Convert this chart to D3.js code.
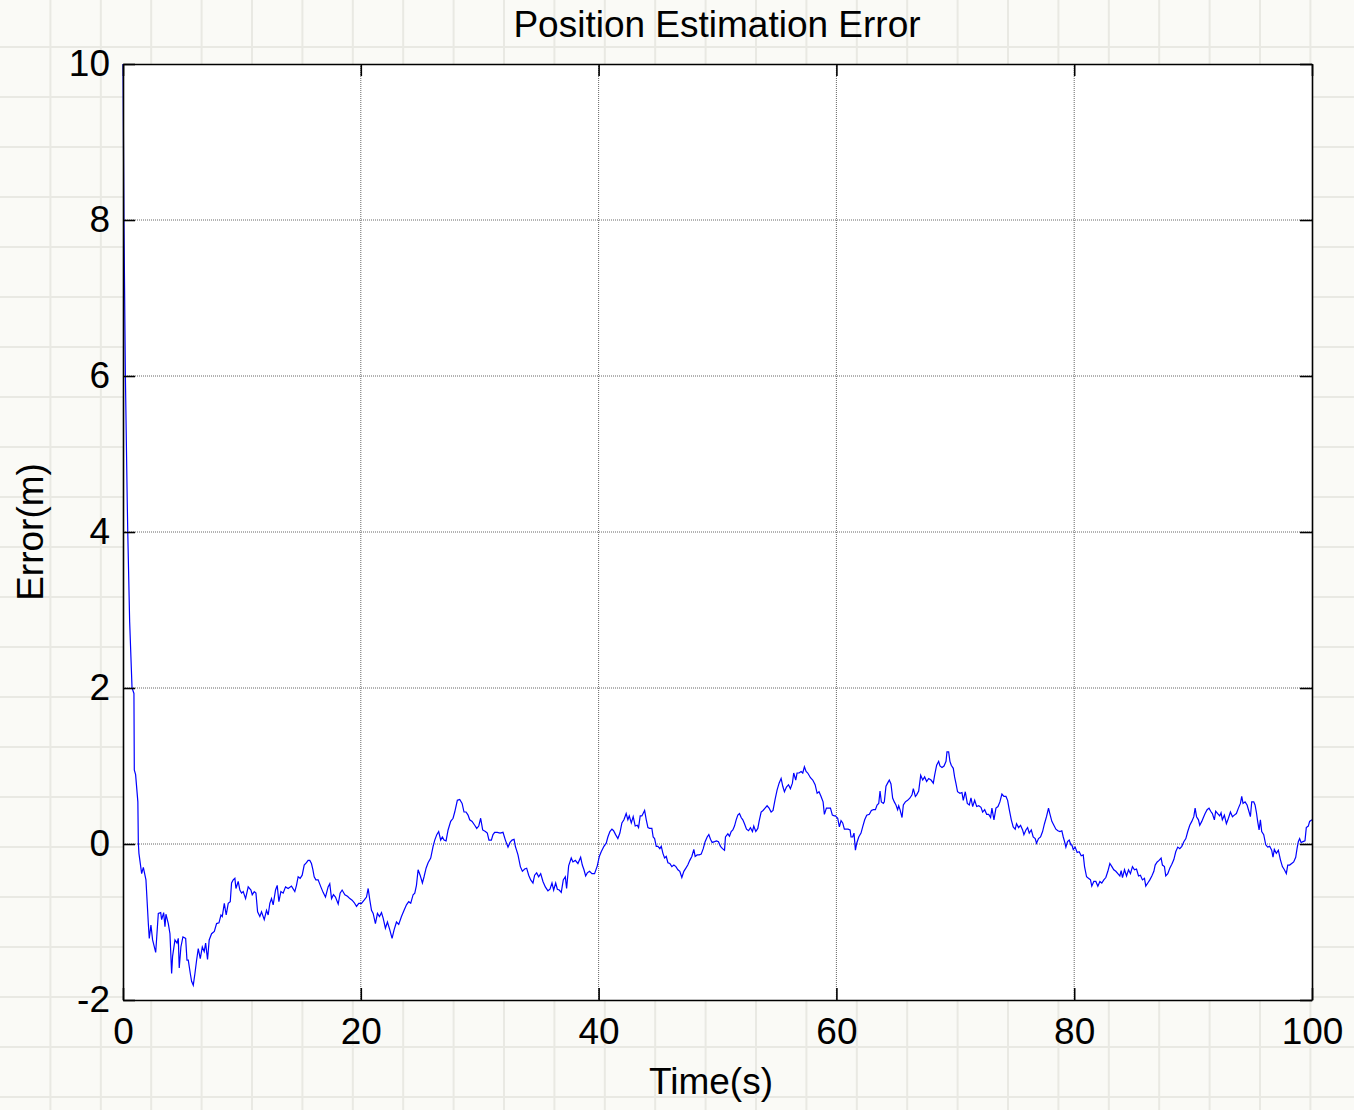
<!DOCTYPE html>
<html lang="en">
<head>
<meta charset="UTF-8">
<title>Position Estimation Error</title>
<style>
  body { margin: 0; background: #fafaf6; }
  text { font-family: "Liberation Sans", Arial, sans-serif; fill: #000; }
</style>
</head>
<body>
<script src="https://d3js.org/d3.v7.min.js"></script>
<script>
// data
var xTicks = [0, 20, 40, 60, 80, 100];
var yTicks = [-2, 0, 2, 4, 6, 8, 10];

var timeS = [
  0, 0.08, 0.2, 0.36, 0.4, 0.56, 0.76, 0.92, 0.95, 1.06, 1.25, 1.29,
  1.34, 1.57, 1.71, 1.93, 2.13, 2.21, 2.35, 2.49, 2.75, 2.97, 3.17, 3.25, 3.42, 3.53, 3.61, 3.81, 3.95,
  4.09, 4.17, 4.37, 4.54, 4.65, 4.73, 4.87, 5.04, 5.27, 5.38, 5.49, 5.66, 5.77, 5.91, 6.05, 6.19, 6.33,
  6.5, 6.67, 6.83, 6.95, 7.11, 7.25, 7.45, 7.68, 7.87, 8.07, 8.24, 8.35, 8.52, 8.68, 8.85, 9.02, 9.13,
  9.27, 9.41, 9.5, 9.69, 9.83, 9.97, 10.11, 10.31, 10.53, 10.76, 10.87, 11.04, 11.18, 11.32, 11.51,
  11.65, 11.88, 12.07, 12.21, 12.35, 12.49, 12.63, 12.83, 12.97, 13.11, 13.28, 13.47, 13.67, 13.89,
  14.17, 14.45, 14.59, 14.73, 14.9, 15.07, 15.24, 15.43, 15.57, 15.71, 15.85, 15.97, 16.08, 16.22,
  16.41, 16.64, 16.83, 17.03, 17.25, 17.39, 17.54, 17.7, 17.87, 18.1, 18.26, 18.43, 18.66, 18.88,
  19.08, 19.27, 19.44, 19.64, 19.83,
  20.06, 20.28, 20.48, 20.62, 20.76, 20.9, 21.04, 21.23, 21.4, 21.57, 21.74, 21.88, 22.07, 22.24,
  22.44, 22.63, 22.8, 23.0, 23.19, 23.42, 23.64, 23.84, 24.03, 24.2, 24.4, 24.54, 24.68, 24.82, 24.99,
  25.18, 25.32, 25.49, 25.66, 25.88, 26.08, 26.22, 26.39, 26.55, 26.72, 26.86, 27.0, 27.17, 27.34,
  27.56, 27.76, 27.9, 28.12, 28.32, 28.52, 28.68, 28.85, 29.02, 29.16, 29.36, 29.58, 29.75, 29.92,
  30.08, 30.25, 30.48, 30.64, 30.78, 30.98, 31.12, 31.26, 31.48, 31.71, 31.96, 32.16, 32.38, 32.55,
  32.72, 32.89, 33.0, 33.22, 33.42, 33.59, 33.78, 33.95, 34.12, 34.29, 34.48, 34.62, 34.79, 34.96,
  35.13, 35.32, 35.52, 35.74, 35.91, 36.08, 36.22, 36.39, 36.53, 36.69, 36.86, 37.03, 37.2, 37.31,
  37.48, 37.7, 37.84, 38.04, 38.26, 38.49, 38.63, 38.77, 38.91, 39.05, 39.24, 39.44, 39.66,
  39.89, 40.06, 40.22, 40.45, 40.64, 40.78, 40.95, 41.12, 41.26, 41.43, 41.62, 41.79, 41.96, 42.13,
  42.32, 42.46, 42.58, 42.75, 42.91, 43.08, 43.25, 43.36, 43.5, 43.64, 43.87, 44.01, 44.15, 44.29,
  44.48, 44.59, 44.71, 44.85, 44.99, 45.15, 45.27, 45.41, 45.55, 45.69, 45.83, 45.99, 46.16, 46.33,
  46.5, 46.67, 46.83, 47.0, 47.17, 47.34, 47.5, 47.67, 47.84, 48.01, 48.12, 48.29, 48.46, 48.63,
  48.8, 48.96, 49.13, 49.27, 49.41, 49.55, 49.75, 49.92, 50.08, 50.25, 50.42, 50.59, 50.67, 50.87,
  51.01, 51.15, 51.29, 51.43, 51.57, 51.71, 51.85, 51.99, 52.13, 52.27, 52.44, 52.61, 52.77, 52.94,
  53.05, 53.22, 53.39, 53.5, 53.67, 53.83, 54.0, 54.17, 54.34, 54.51, 54.67, 54.84, 55.01, 55.18,
  55.35, 55.49, 55.63, 55.8, 55.97, 56.13, 56.3, 56.41, 56.58, 56.69, 56.86, 57.03, 57.17, 57.31,
  57.45, 57.59, 57.82, 58.01, 58.21, 58.38, 58.54, 58.71, 58.88, 58.99, 59.16, 59.33, 59.5, 59.66,
  59.83,
  59.92, 60.11, 60.25, 60.39, 60.53, 60.67, 60.81, 60.98, 61.15, 61.23, 61.37, 61.48, 61.6, 61.71,
  61.88, 62.07, 62.21, 62.38, 62.55, 62.77, 62.94, 63.11, 63.28, 63.42, 63.56, 63.67, 63.78, 63.95,
  64.03, 64.17, 64.34, 64.45, 64.59, 64.73, 64.87, 65.01, 65.15, 65.24, 65.35, 65.52, 65.63, 65.8,
  65.99, 66.19, 66.36, 66.47, 66.64, 66.75, 66.92, 67.09, 67.26, 67.42, 67.59, 67.76, 67.96, 68.15,
  68.26, 68.43, 68.6, 68.71, 68.88, 69.05, 69.22, 69.3, 69.44, 69.55, 69.66, 69.83, 69.94, 70.05,
  70.19, 70.39, 70.56, 70.67, 70.84, 71.01, 71.18, 71.32, 71.46, 71.63, 71.8, 71.97, 72.16, 72.3,
  72.47, 72.64, 72.81, 72.97, 73.08, 73.25, 73.42, 73.59, 73.75, 73.92, 74.09, 74.26, 74.4, 74.54,
  74.71, 74.87, 75.04, 75.15, 75.32, 75.49, 75.66, 75.77, 75.94, 76.08, 76.22, 76.39, 76.55, 76.72,
  76.83, 77.0, 77.17, 77.34, 77.5, 77.67, 77.84, 77.95, 78.12, 78.29, 78.46, 78.63, 78.8, 78.96,
  79.08, 79.19, 79.3, 79.44, 79.58, 79.72,
  79.8, 79.92, 80.08, 80.25, 80.42, 80.59, 80.76, 80.87, 81.04, 81.2, 81.37, 81.48, 81.65, 81.82,
  81.99, 82.16, 82.32, 82.49, 82.66, 82.83, 83.0, 83.17, 83.33, 83.5, 83.67, 83.84, 83.95, 84.06,
  84.23, 84.4, 84.57, 84.73, 84.9, 85.07, 85.24, 85.41, 85.57, 85.74, 85.91, 86.02, 86.19, 86.36,
  86.53, 86.7, 86.81, 86.98, 87.14, 87.31, 87.42, 87.59, 87.7, 87.87, 88.04, 88.21, 88.38, 88.54,
  88.71, 88.88, 89.05, 89.22, 89.39, 89.55, 89.72, 89.89, 90.06, 90.17, 90.29, 90.45, 90.56, 90.73,
  90.84, 91.01, 91.18, 91.34, 91.48, 91.62, 91.79, 91.9, 92.07, 92.24, 92.35, 92.46, 92.63, 92.8,
  92.97, 93.14, 93.31, 93.47, 93.64, 93.81, 93.98, 94.09, 94.2, 94.37, 94.54, 94.71, 94.82, 94.93,
  95.1, 95.21, 95.32, 95.43, 95.55, 95.66, 95.77, 95.94, 96.11, 96.27, 96.44, 96.61, 96.72, 96.83,
  97.0, 97.17, 97.34, 97.51, 97.68, 97.84, 97.96, 98.12, 98.29, 98.46, 98.63, 98.74, 98.85, 98.96,
  99.08, 99.24, 99.41, 99.52, 99.69, 99.8, 100
];

var errorM = [
  10, 8, 6, 4.36, 4, 2.85, 2, 1.93, 0.95, 0.89, 0.54, 0.01,
  -0.12, -0.38, -0.3, -0.46, -1.02, -1.21, -1.04, -1.23, -1.39, -0.89, -0.88, -0.97, -0.88, -1.06, -0.9, -1.02, -1.15,
  -1.66, -1.44, -1.23, -1.27, -1.21, -1.59, -1.32, -1.19, -1.21, -1.49, -1.49, -1.66, -1.76, -1.81, -1.66, -1.49, -1.34,
  -1.47, -1.32, -1.38, -1.27, -1.48, -1.23, -1.15, -1.12, -1.02, -1.01, -0.91, -0.93, -0.76, -0.91, -0.76, -0.74, -0.5,
  -0.46, -0.44, -0.57, -0.48, -0.59, -0.63, -0.61, -0.7, -0.55, -0.59, -0.65, -0.61, -0.63, -0.87, -0.93,
  -0.87, -0.97, -0.85, -0.91, -0.76, -0.7, -0.78, -0.59, -0.53, -0.74, -0.61, -0.63, -0.55, -0.57,
  -0.54, -0.61, -0.53, -0.42, -0.44, -0.4, -0.27, -0.24, -0.21, -0.21, -0.25, -0.33, -0.42, -0.46,
  -0.46, -0.55, -0.62, -0.68, -0.55, -0.51, -0.7, -0.65, -0.68, -0.77, -0.63, -0.59, -0.65, -0.67,
  -0.7, -0.72, -0.75, -0.8, -0.76,
  -0.76, -0.72, -0.68, -0.57, -0.72, -0.85, -0.89, -1.02, -0.89, -0.93, -0.88, -0.95, -1.08, -1.0,
  -1.1, -1.21, -1.1, -1.0, -1.03, -0.93, -0.85, -0.78, -0.74, -0.76, -0.65, -0.63, -0.53, -0.33, -0.4,
  -0.5, -0.42, -0.31, -0.24, -0.18, -0.03, 0.05, 0.12, 0.16, 0.05, 0.09, 0.05, 0.04, 0.18,
  0.29, 0.33, 0.41, 0.56, 0.57, 0.52, 0.41, 0.41, 0.37, 0.31, 0.29, 0.24, 0.2, 0.23,
  0.33, 0.18, 0.16, 0.14, 0.05, 0.05, 0.12, 0.15, 0.15, 0.14, 0.15, 0.05, -0.04, 0.02,
  0.05, 0.06, -0.03, -0.14, -0.29, -0.35, -0.32, -0.31, -0.4, -0.46, -0.5, -0.4, -0.37, -0.42,
  -0.38, -0.48, -0.55, -0.6, -0.58, -0.5, -0.59, -0.5, -0.58, -0.59, -0.62, -0.46, -0.42, -0.57,
  -0.28, -0.18, -0.23, -0.21, -0.25, -0.17, -0.27, -0.33, -0.41, -0.37, -0.35, -0.38, -0.38,
  -0.28, -0.16, -0.1, -0.03, 0.01, 0.09, 0.16, 0.19, 0.17, 0.12, 0.07, 0.14, 0.27, 0.31,
  0.39, 0.31, 0.36, 0.27, 0.35, 0.23, 0.24, 0.21, 0.36, 0.36, 0.43, 0.31, 0.21, 0.2,
  0.2, 0.09, 0.07, -0.03, -0.03, -0.06, -0.03, -0.12, -0.18, -0.16, -0.24, -0.25, -0.29, -0.27,
  -0.29, -0.33, -0.35, -0.43, -0.35, -0.31, -0.27, -0.21, -0.16, -0.07, -0.16, -0.14, -0.14, -0.13,
  -0.06, 0.03, 0.09, 0.12, 0.06, 0.02, 0.03, 0.04, 0.03, -0.03, -0.06, -0.08, 0.09, 0.13,
  0.1, 0.16, 0.18, 0.23, 0.31, 0.37, 0.39, 0.34, 0.31, 0.26, 0.19, 0.17, 0.21, 0.16,
  0.23, 0.16, 0.2, 0.29, 0.41, 0.43, 0.46, 0.49, 0.46, 0.41, 0.43, 0.57, 0.69, 0.78,
  0.84, 0.74, 0.67, 0.73, 0.76, 0.71, 0.78, 0.91, 0.82, 0.91, 0.91, 0.93, 0.91, 0.99,
  0.93, 0.91, 0.85, 0.82, 0.76, 0.65, 0.67, 0.61, 0.54, 0.38, 0.46, 0.46, 0.46, 0.37,
  0.36,
  0.36, 0.33, 0.22, 0.3, 0.27, 0.19, 0.19, 0.19, 0.18, 0.09, 0.09, 0.14, -0.08, 0.01,
  0.09, 0.14, 0.22, 0.31, 0.37, 0.38, 0.43, 0.44, 0.44, 0.5, 0.52, 0.68, 0.54, 0.52,
  0.54, 0.74, 0.79, 0.82, 0.77, 0.59, 0.54, 0.5, 0.44, 0.49, 0.44, 0.34, 0.5, 0.54,
  0.56, 0.59, 0.63, 0.71, 0.61, 0.63, 0.68, 0.88, 0.82, 0.86, 0.8, 0.84, 0.82, 0.78,
  0.88, 1.01, 1.06, 1.0, 0.98, 1.0, 1.06, 1.18, 1.18, 1.06, 1.01, 0.97, 0.86, 0.78,
  0.67, 0.65, 0.66, 0.56, 0.67, 0.52, 0.5, 0.59, 0.48, 0.56, 0.48, 0.49, 0.47, 0.41,
  0.44, 0.38, 0.38, 0.34, 0.46, 0.31, 0.46, 0.48, 0.54, 0.64, 0.61, 0.61, 0.56, 0.44,
  0.31, 0.22, 0.19, 0.26, 0.21, 0.24, 0.18, 0.12, 0.18, 0.21, 0.14, 0.18, 0.09, 0.07,
  0.01, 0.07, 0.09, 0.16, 0.26, 0.35, 0.46, 0.39, 0.29, 0.24, 0.19, 0.17, 0.16, 0.17,
  0.09, 0.03, -0.04, 0.03, 0.05, -0.01,
  -0.01, -0.07, -0.04, -0.11, -0.1, -0.15, -0.14, -0.29, -0.42, -0.44, -0.46, -0.54, -0.48, -0.48,
  -0.54, -0.48, -0.5, -0.46, -0.43, -0.35, -0.25, -0.29, -0.33, -0.35, -0.38, -0.41, -0.34, -0.43,
  -0.33, -0.41, -0.33, -0.38, -0.29, -0.33, -0.32, -0.41, -0.4, -0.46, -0.44, -0.54, -0.5, -0.46,
  -0.41, -0.35, -0.27, -0.23, -0.21, -0.18, -0.27, -0.29, -0.41, -0.38, -0.31, -0.26, -0.2, -0.1,
  -0.04, -0.06, -0.03, 0.03, 0.07, 0.16, 0.24, 0.29, 0.35, 0.46, 0.35, 0.31, 0.24, 0.29,
  0.33, 0.39, 0.44, 0.46, 0.42, 0.39, 0.31, 0.42, 0.39, 0.36, 0.4, 0.31, 0.37, 0.26,
  0.33, 0.41, 0.35, 0.37, 0.39, 0.46, 0.52, 0.61, 0.52, 0.54, 0.5, 0.41, 0.35, 0.54,
  0.54, 0.5, 0.41, 0.29, 0.18, 0.31, 0.16, 0.12, -0.01, -0.04, -0.03, -0.08, -0.17, -0.07,
  -0.12, -0.08, -0.2, -0.29, -0.33, -0.38, -0.27, -0.27, -0.25, -0.23, -0.17, -0.06, 0.03, 0.07,
  0.02, 0.03, 0.04, 0.21, 0.23, 0.29, 0.31
];

var W = 1354, H = 1110;
var margin = {left: 123, right: 42, top: 64, bottom: 110};

var svg = d3.select("body").append("svg")
    .attr("width", W)
    .attr("height", H);

// grid-paper background
var bg = svg.append("g").attr("class", "paper");
bg.append("rect").attr("width", W).attr("height", H).attr("fill", "#fafaf6");
bg.selectAll("line.v").data(d3.range(1, 27)).enter().append("line")
    .attr("x1", function(d) { return d * 50.4; })
    .attr("x2", function(d) { return d * 50.4; })
    .attr("y1", 0).attr("y2", H)
    .attr("stroke", "#e9e9e3").attr("stroke-width", 2);
bg.selectAll("line.h").data(d3.range(1, 23)).enter().append("line")
    .attr("y1", function(d) { return d * 50 - 3; })
    .attr("y2", function(d) { return d * 50 - 3; })
    .attr("x1", 0).attr("x2", W)
    .attr("stroke", "#e9e9e3").attr("stroke-width", 2);

var x = d3.scaleLinear().domain([0, 100]).range([margin.left, W - margin.right]);
var y = d3.scaleLinear().domain([-2, 10]).range([H - margin.bottom, margin.top]);

var x0 = x.range()[0], x1 = x.range()[1];
var y0 = y.range()[0], y1 = y.range()[1];

// plot area
svg.append("rect")
    .attr("x", x0).attr("y", y1)
    .attr("width", x1 - x0).attr("height", y0 - y1)
    .attr("fill", "#fff");

// dotted grid
var grid = svg.append("g").attr("class", "grid");
grid.selectAll("line.gx").data(xTicks.slice(1, -1)).enter().append("line")
    .attr("x1", function(d) { return x(d); }).attr("x2", function(d) { return x(d); })
    .attr("y1", y1).attr("y2", y0)
    .attr("stroke", "#666").attr("stroke-width", 1).attr("stroke-dasharray", "1,1");
grid.selectAll("line.gy").data(yTicks.slice(1, -1)).enter().append("line")
    .attr("y1", function(d) { return y(d); }).attr("y2", function(d) { return y(d); })
    .attr("x1", x0).attr("x2", x1)
    .attr("stroke", "#666").attr("stroke-width", 1).attr("stroke-dasharray", "1,1");

// the error curve
var pts = timeS.map(function(t, i) { return [t, errorM[i]]; });
var line = d3.line()
    .x(function(d) { return x(d[0]); })
    .y(function(d) { return y(d[1]); });

svg.append("path")
    .datum(pts)
    .attr("fill", "none")
    .attr("stroke", "#0000ff")
    .attr("stroke-width", 1.2)
    .attr("d", line);

// axes, matlab style: ticks inside on all four sides
var tk = 12;
var fs = 37;
var plain = function(d) { return String(d); };   // hyphen minus like the original
var axB = svg.append("g").attr("transform", "translate(0," + y0 + ")")
    .call(d3.axisBottom(x).tickValues(xTicks).tickFormat(plain).tickSizeInner(-tk).tickSizeOuter(0).tickPadding(18));
var axT = svg.append("g").attr("transform", "translate(0," + y1 + ")")
    .call(d3.axisTop(x).tickValues(xTicks).tickSizeInner(-tk).tickSizeOuter(0).tickFormat(""));
var axL = svg.append("g").attr("transform", "translate(" + x0 + ",0)")
    .call(d3.axisLeft(y).tickValues(yTicks).tickFormat(plain).tickSizeInner(-tk).tickSizeOuter(0).tickPadding(13));
var axR = svg.append("g").attr("transform", "translate(" + x1 + ",0)")
    .call(d3.axisRight(y).tickValues(yTicks).tickSizeInner(-tk).tickSizeOuter(0).tickFormat(""));

[axB, axT, axL, axR].forEach(function(a) {
  a.select(".domain").attr("stroke", "#000").attr("stroke-width", 1.6);
  a.selectAll(".tick line").attr("stroke", "#000").attr("stroke-width", 1.6);
  a.selectAll(".tick text")
    .style("font-family", '"Liberation Sans", Arial, sans-serif')
    .style("font-size", fs + "px")
    .attr("fill", "#000");
});

// titles
svg.append("text")
    .attr("x", 717).attr("y", 37)
    .attr("text-anchor", "middle")
    .style("font-size", "37px")
    .text("Position Estimation Error");

svg.append("text")
    .attr("x", 711).attr("y", 1094)
    .attr("text-anchor", "middle")
    .style("font-size", fs + "px")
    .text("Time(s)");

svg.append("text")
    .attr("transform", "translate(43,532) rotate(-90)")
    .attr("text-anchor", "middle")
    .style("font-size", fs + "px")
    .text("Error(m)");
</script>
</body>
</html>
